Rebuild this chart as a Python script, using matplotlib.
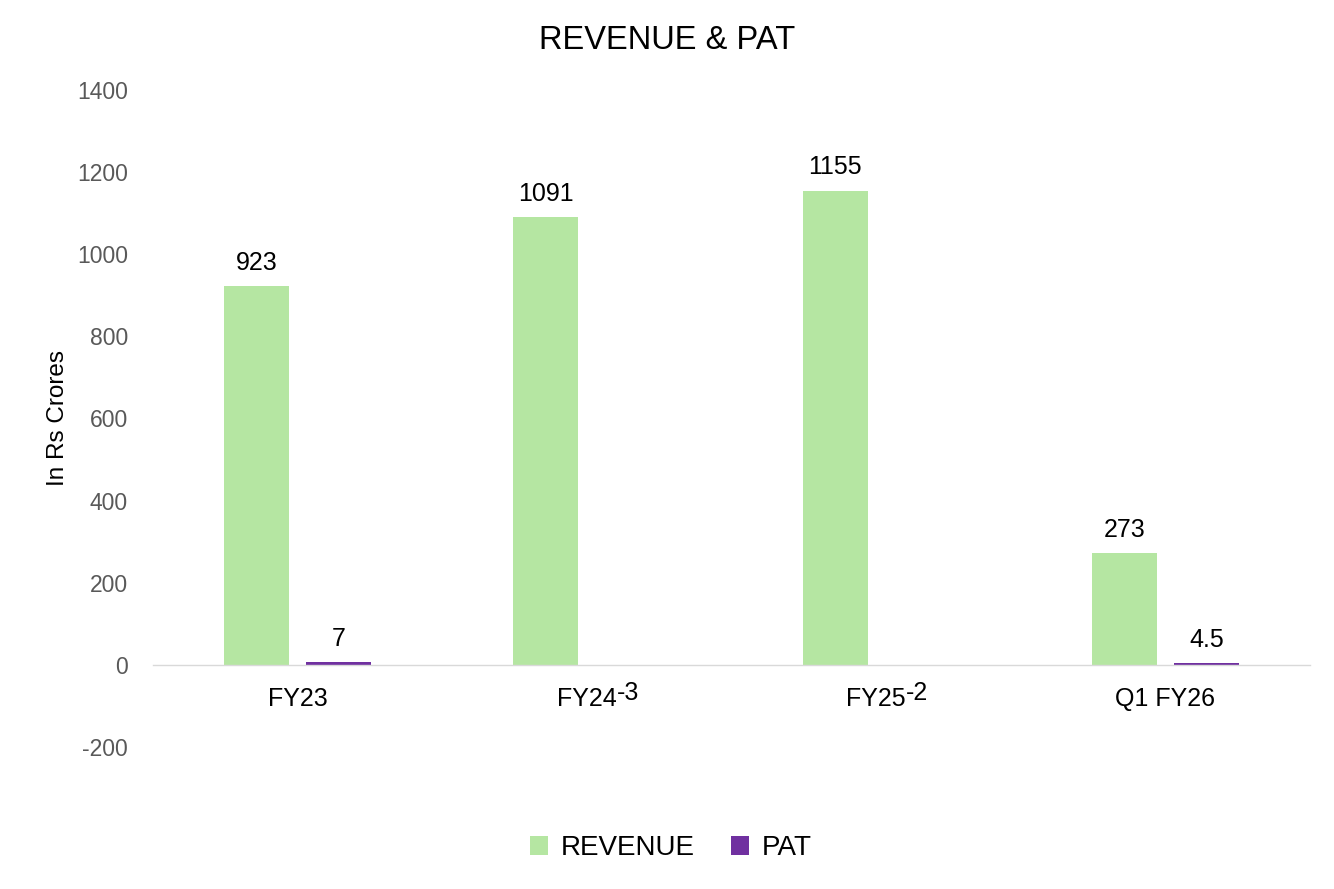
import matplotlib
matplotlib.use("Agg")
import matplotlib.pyplot as plt
import numpy as np

categories = ["FY23", "FY24", "FY25", "Q1 FY26"]
revenue = [923, 1091, 1155, 273]
pat = [7, -3, -2, 4.5]
pat_labels = ["7", "-3", "-2", "4.5"]
rev_labels = ["923", "1091", "1155", "273"]
yticks = [-200, 0, 200, 400, 600, 800, 1000, 1200, 1400]

plt.rcParams['font.family'] = ['Liberation Sans', 'DejaVu Sans']

fig = plt.figure(figsize=(13.34, 8.89), dpi=100)
ax = fig.add_axes([0.1147, 0.1597, 0.8673, 0.7391])

for s in ["top", "right", "left"]:
    ax.spines[s].set_visible(False)
ax.spines["bottom"].set_position(("data", 0))
ax.spines["bottom"].set_color("#D9D9D9")
ax.spines["bottom"].set_linewidth(1.0)
ax.spines["bottom"].set_zorder(4)

x = np.arange(len(categories))
w = 0.225
gap = 0.059
off = (w + gap) / 2
rev_color = "#B5E6A2"
pat_color = "#7030A0"

b1 = ax.bar(x - off, revenue, w, color=rev_color, label="REVENUE", zorder=3)
b2 = ax.bar(x + off, pat, w, color=pat_color, label="PAT", zorder=3)

for xi, v, t in zip(x - off, revenue, rev_labels):
    ax.annotate(t, (xi, v), xytext=(0, 8), textcoords="offset points",
                ha="center", va="bottom", fontsize=18, color="black")
for xi, v, t in zip(x + off, pat, pat_labels):
    if v >= 0:
        ax.annotate(t, (xi, v), xytext=(0, 8), textcoords="offset points",
                    ha="center", va="bottom", fontsize=18, color="black")
    else:
        ax.annotate(t, (xi, v), xytext=(0, -11), textcoords="offset points",
                    ha="center", va="top", fontsize=18, color="black")

ax.set_xlim(-0.5, len(categories) - 0.5)
ax.set_ylim(-200, 1400)
ax.set_yticks(yticks)
ax.set_yticklabels([str(t) for t in yticks], fontsize=16.5, color="#595959")
ax.tick_params(axis="y", length=0, pad=18)

ax.set_xticks(x)
ax.set_xticklabels(categories, fontsize=18, color="black")
ax.tick_params(axis="x", length=0, pad=16)

ax.set_ylabel("In Rs Crores", fontsize=17.5, color="black")
ax.yaxis.set_label_coords(-0.073, 0.5)

fig.text(0.5, 0.955, "REVENUE & PAT", ha="center", va="center", fontsize=23.5, color="black")

fig.legend(handles=[b1, b2], labels=["REVENUE", "PAT"], loc="center",
           bbox_to_anchor=(0.503, 0.046), ncol=2, frameon=False, fontsize=20,
           handlelength=0.65, handleheight=0.65, handletextpad=0.45, columnspacing=1.3)

fig.savefig("out.png", dpi=100)
